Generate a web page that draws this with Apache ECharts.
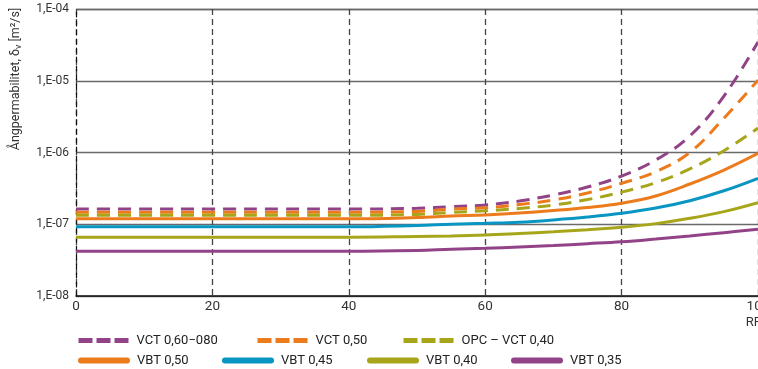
<!DOCTYPE html>
<html><head><meta charset="utf-8">
<script src="https://cdn.jsdelivr.net/npm/echarts@6/dist/echarts.min.js"></script>
<style>html,body{margin:0;padding:0;background:#fff}#c{width:758px;height:369px}</style>
</head><body><div id="c"></div>
<script>
var FONT = 'Roboto, "Liberation Sans", sans-serif';
var rf = [0, 10, 20, 30, 40, 50, 55, 60, 65, 70, 75, 80, 85, 90, 95, 100];
var xTicks = [0, 20, 40, 60, 80, 100];
var yTicks = ['1,E-08', '1,E-07', '1,E-06', '1,E-05', '1,E-04'];
var names = ['VCT 0,60\u2212080', 'VCT 0,50', 'OPC \u2013 VCT 0,40', 'VBT 0,50', 'VBT 0,45', 'VBT 0,40', 'VBT 0,35'];
var vct060 = [1.63e-7,1.63e-7,1.63e-7,1.63e-7,1.63e-7,1.67e-7,1.76e-7,1.85e-7,2.11e-7,2.56e-7,3.30e-7,4.70e-7,7.86e-7,1.70e-6,6.1e-6,3.47e-5];
var vct050 = [1.47e-7,1.47e-7,1.47e-7,1.47e-7,1.47e-7,1.51e-7,1.62e-7,1.70e-7,1.88e-7,2.18e-7,2.73e-7,3.72e-7,5.40e-7,1.0e-6,3.0e-6,1.02e-5];
var opc040 = [1.33e-7,1.33e-7,1.33e-7,1.33e-7,1.33e-7,1.37e-7,1.46e-7,1.54e-7,1.66e-7,1.85e-7,2.21e-7,2.80e-7,3.80e-7,5.9e-7,1.06e-6,2.19e-6];
var vbt050 = [1.19e-7,1.19e-7,1.19e-7,1.19e-7,1.19e-7,1.24e-7,1.30e-7,1.35e-7,1.43e-7,1.55e-7,1.71e-7,1.96e-7,2.48e-7,3.64e-7,5.70e-7,9.75e-7];
var vbt045 = [9.2e-8,9.2e-8,9.2e-8,9.2e-8,9.2e-8,9.6e-8,1.0e-7,1.03e-7,1.07e-7,1.15e-7,1.26e-7,1.42e-7,1.68e-7,2.13e-7,2.93e-7,4.37e-7];
var vbt040 = [6.6e-8,6.6e-8,6.6e-8,6.6e-8,6.6e-8,6.75e-8,6.86e-8,7.08e-8,7.44e-8,7.85e-8,8.37e-8,9.07e-8,1.02e-7,1.21e-7,1.50e-7,2.0e-7];
var vbt035 = [4.2e-8,4.2e-8,4.2e-8,4.2e-8,4.2e-8,4.31e-8,4.48e-8,4.62e-8,4.82e-8,5.05e-8,5.36e-8,5.71e-8,6.23e-8,6.86e-8,7.63e-8,8.5e-8];

var purple = '#924387', orange = '#EC7B1C', olive = '#A7A61B', blue = '#0A96C3';
var seriesDefs = [
  {name: names[0], data: vct060, color: purple, dashed: true},
  {name: names[1], data: vct050, color: orange, dashed: true},
  {name: names[2], data: opc040, color: olive, dashed: true},
  {name: names[3], data: vbt050, color: orange, dashed: false},
  {name: names[4], data: vbt045, color: blue, dashed: false},
  {name: names[5], data: vbt040, color: olive, dashed: false},
  {name: names[6], data: vbt035, color: purple, dashed: false}
];
var series = seriesDefs.map(function (s) {
  return {
    name: s.name, type: 'line', smooth: 0.4, symbol: 'none', showSymbol: false,
    color: s.color,
    lineStyle: {color: s.color, width: 3, type: s.dashed ? [13, 8] : 'solid'},
    data: rf.map(function (x, i) { return [x, s.data[i]]; }),
    z: s.dashed ? 3 : 2
  };
});
var legPos = [[76, 334], [255, 334], [401, 334], [78, 354], [222, 354], [367, 354], [511, 354]];
var legends = seriesDefs.map(function (s, i) {
  return {
    data: [s.name], left: legPos[i][0], top: legPos[i][1],
    itemWidth: s.dashed ? 50 : 46, itemHeight: 14, padding: 0,
    itemStyle: {opacity: 0},
    lineStyle: s.dashed ? {width: 5, type: [14, 4], cap: 'butt'} : {width: 6, cap: 'round', type: 'solid'},
    textStyle: {fontFamily: FONT, fontSize: 13, color: '#222', padding: [0, 0, 0, s.dashed ? 3 : 5]},
    selectedMode: false
  };
});

var chart = echarts.init(document.getElementById('c'), null, {renderer: 'canvas'});
chart.setOption({
  animation: false,
  textStyle: {fontFamily: FONT},
  grid: {left: 76, right: 0, top: 9, bottom: 73, containLabel: false, outerBoundsMode: 'none'},
  legend: legends,
  xAxis: {
    type: 'value', min: xTicks[0], max: xTicks[xTicks.length - 1], interval: 20,
    name: 'RF%', nameLocation: 'end', nameGap: 0,
    nameTextStyle: {fontFamily: FONT, fontSize: 13, color: '#333', align: 'center', verticalAlign: 'top', padding: [20, 0, 0, 0]},
    axisLine: {show: true, lineStyle: {color: '#111', width: 1.5}},
    axisTick: {show: false},
    axisLabel: {fontFamily: FONT, fontSize: 13.5, color: '#333', margin: 4},
    splitLine: {show: true, lineStyle: {color: '#444', width: 1.3, type: [6, 4]}}
  },
  yAxis: {
    type: 'log', logBase: 10, min: 1e-8, max: 1e-4,
    axisLine: {show: true, onZero: false, lineStyle: {color: '#111', width: 1.2, type: [5, 4]}},
    axisTick: {show: false},
    axisLabel: {
      fontFamily: FONT, fontSize: 12, color: '#333', margin: 7,
      formatter: function (v) {
        var e = Math.round(Math.log10(v));
        return yTicks[e + 8];
      }
    },
    splitLine: {show: true, lineStyle: {color: '#6a6a6a', width: 1.4}}
  },
  graphic: [{
    type: 'text', x: 16, y: 79, rotation: Math.PI / 2,
    style: {
      text: '{a|\u00c5ngpermabilitet, \u03b4}{s|v}{a| [m\u00b2/s]}',
      align: 'center', verticalAlign: 'middle',
      rich: {
        a: {fontFamily: FONT, fontSize: 12.5, fill: '#333'},
        s: {fontFamily: FONT, fontSize: 9, fill: '#333', padding: [6, 0, 0, 0]}
      }
    }
  }],
  series: series
});
</script></body></html>
